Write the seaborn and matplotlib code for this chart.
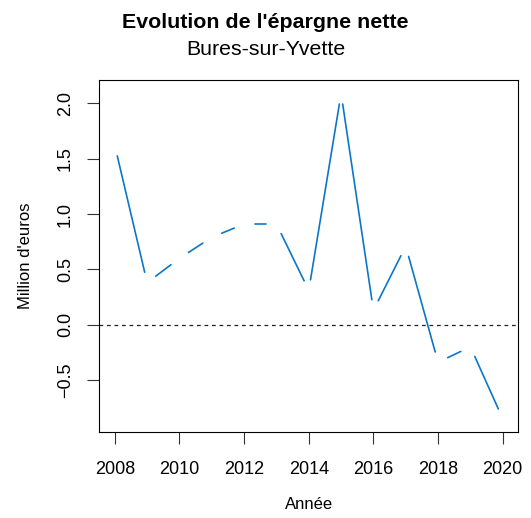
import matplotlib
matplotlib.use("Agg")
import matplotlib.pyplot as plt
import numpy as np
import pandas as pd
import seaborn as sns

# data
years = [2008, 2009, 2010, 2011, 2012, 2013, 2014, 2015, 2016, 2017, 2018, 2019, 2020]
epargne = [1.62, 0.38, 0.60, 0.79, 0.91, 0.91, 0.31, 2.09, 0.13, 0.71, -0.34, -0.20, -0.85]
xticks = [2008, 2010, 2012, 2014, 2016, 2018, 2020]
yticks = [-0.5, 0.0, 0.5, 1.0, 1.5, 2.0]

sns.set_style("white")
plt.rcParams['font.family'] = ['Liberation Sans', 'DejaVu Sans']
plt.rcParams['text.color'] = 'black'
plt.rcParams['axes.labelcolor'] = 'black'

fig = plt.figure(figsize=(5.31, 5.18), dpi=100)
ax = fig.add_axes([0.187, 0.1666, 0.789, 0.678])

# R-style limits (4% padding)
xr = max(years) - min(years)
yr = max(epargne) - min(epargne)
ax.set_xlim(min(years) - 0.04 * xr, max(years) + 0.04 * xr)
ax.set_ylim(min(epargne) - 0.04 * yr, max(epargne) + 0.04 * yr)

# type="c" lines: segments with a gap around each point
gap = 10.7  # pixels
pts = ax.transData.transform(np.column_stack([years, epargne]))
rows = []
for i in range(len(pts) - 1):
    p0, p1 = pts[i], pts[i + 1]
    d = p1 - p0
    u = d / np.hypot(*d)
    a = ax.transData.inverted().transform(p0 + u * gap)
    b = ax.transData.inverted().transform(p1 - u * gap)
    rows.append({'seg': i, 'x': a[0], 'y': a[1]})
    rows.append({'seg': i, 'x': b[0], 'y': b[1]})
seg_df = pd.DataFrame(rows)

sns.lineplot(data=seg_df, x='x', y='y', units='seg', estimator=None,
             sort=False, color='#0a77c9', linewidth=1.2, ax=ax)

ax.axhline(0, color='#222222', linewidth=0.9, dashes=(3, 3))

ax.set_xticks(xticks)
ax.set_yticks(yticks)
ax.set_yticklabels([f"{v:.1f}".replace('-', '\u2212') for v in yticks],
                   rotation=90, va='center')
ax.tick_params(axis='both', direction='out', length=8.3, width=0.8,
               color='#333333', labelsize=13, labelcolor='black')
ax.tick_params(axis='x', pad=12.5)
ax.tick_params(axis='y', pad=10)
ax.tick_params(left=True, bottom=True)
for s in ax.spines.values():
    s.set_color('black')
    s.set_linewidth(0.8)

ax.set_xlabel("Année", fontsize=12, labelpad=14)
ax.set_ylabel("Million d'euros", fontsize=12, labelpad=17)

fig.text(0.5, 0.946, "Evolution de l'épargne nette", ha='center', va='baseline',
         fontsize=15.4, fontweight='bold')
fig.text(0.5, 0.894, "Bures-sur-Yvette", ha='center', va='baseline', fontsize=15.3)

fig.savefig("out.png", dpi=100)
